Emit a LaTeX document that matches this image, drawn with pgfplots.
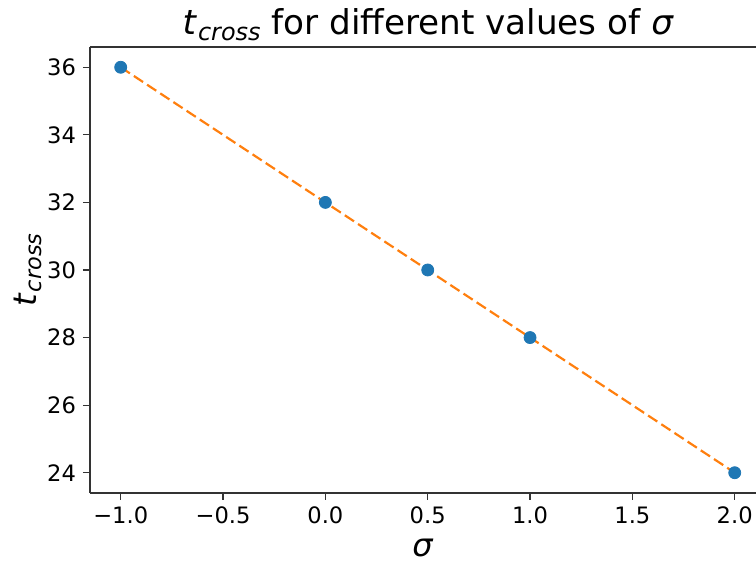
\documentclass[border=0pt]{standalone}
\usepackage{fontspec}
\setmainfont{DejaVu Sans}
\usepackage{pgfplots}
\pgfplotsset{compat=1.18}
\usetikzlibrary{calc}
\definecolor{tabblue}{HTML}{1F77B4}
\definecolor{taborange}{HTML}{FF7F0E}
\newcommand{\tcross}{\textit{t}\kern0.5pt\raisebox{-0.3ex}{\scalebox{0.7}{\textit{cross}}}}
\begin{document}
\begin{tikzpicture}
\begin{axis}[
  name=ax,
  scale only axis,
  width=333pt, height=223pt,
  xmin=-1.15, xmax=2.104,
  ymin=23.4, ymax=36.6,
  axis x line*=bottom, axis y line*=left,
  axis line style={line width=0.7pt, color=black!80},
  tick style={line width=0.6pt, color=black!80},
  tick align=outside, major tick length=3.5pt,
  xtick={-1,-0.5,0,0.5,1,1.5,2},
  xticklabels={−1.0,−0.5,0.0,0.5,1.0,1.5,2.0},
  ytick={24,26,28,30,32,34,36},
  /pgf/number format/assume math mode=true,
  tick label style={font=\fontsize{11.3}{13}\selectfont},
  title={\tcross\ for different values of \textit{σ}},
  every axis title/.style={at={(axis description cs:0.508,1.027)}, anchor=base, font=\fontsize{17.1}{19}\selectfont},
  xlabel={\textit{σ}},
  ylabel={\tcross},
  every axis x label/.style={at={(axis description cs:0.5,-0.123)}, anchor=center, font=\fontsize{16}{19}\selectfont},
  every axis y label/.style={at={(axis description cs:-0.093,0.5)}, anchor=center, rotate=90, font=\fontsize{16}{19}\selectfont},
  clip=false,
]
\addplot[only marks, mark=*, mark size=3pt, color=tabblue, mark options={draw=none, fill=tabblue}]
  coordinates {(-1,36) (0,32) (0.5,30) (1,28) (2,24)};
\addplot[color=taborange, line width=1.1pt, dash pattern=on 5.5pt off 2.4pt, no marks]
  coordinates {(-1,36) (0,32) (0.5,30) (1,28) (2,24)};
\draw[line width=0.7pt, color=black!80] (rel axis cs:0,1) -- (rel axis cs:1,1);
\end{axis}
\pgfresetboundingbox
\useasboundingbox ($(ax.south west)+(-45pt,-35.5pt)$) rectangle ($(ax.north east)+(0,23.5pt)$);
\end{tikzpicture}
\end{document}
